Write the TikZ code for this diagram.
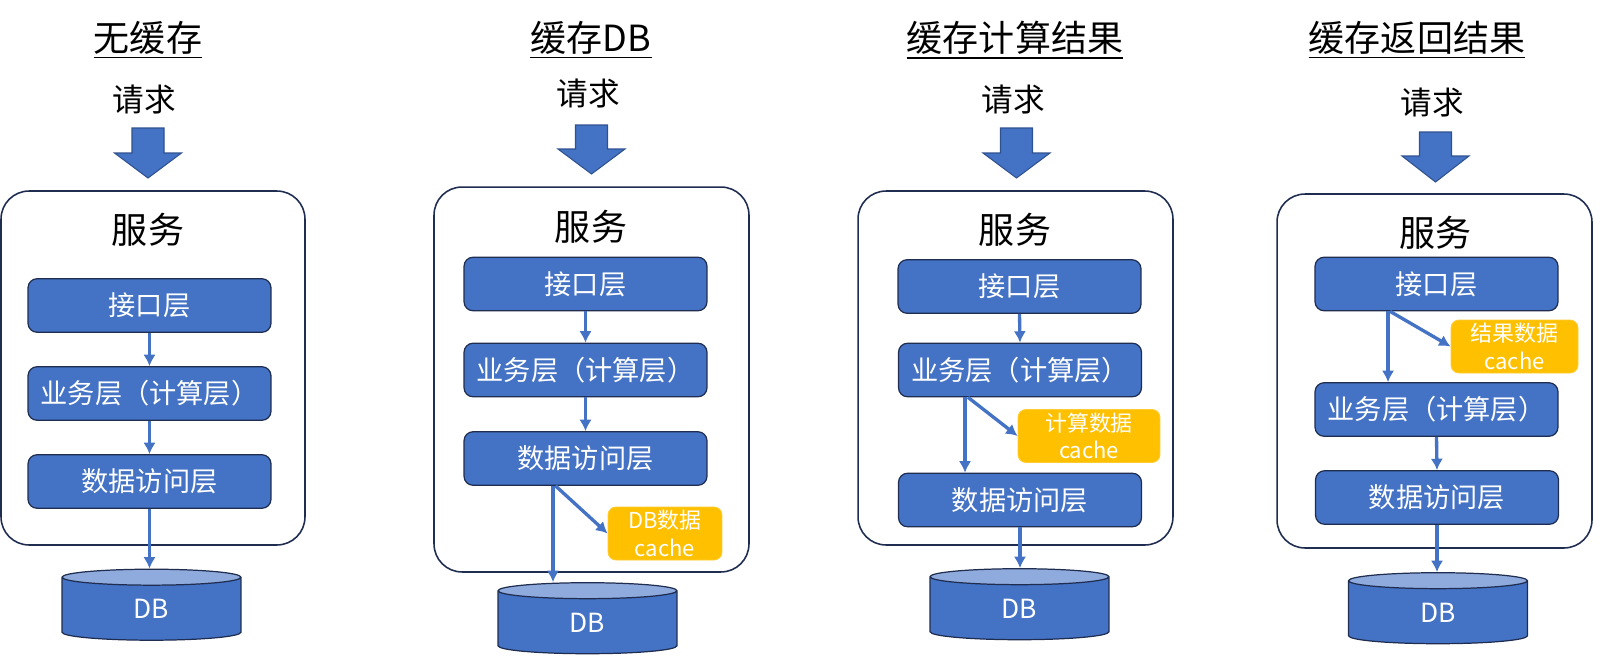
\documentclass[tikz,border=0pt]{standalone}
\usepackage{fontspec}
\setmainfont{Noto Sans CJK SC}
\usetikzlibrary{shapes.geometric}
\usetikzlibrary{positioning}
\usetikzlibrary{arrows.meta}

\definecolor{layerblue}{HTML}{4472C4}
\definecolor{layerline}{HTML}{2F528F}
\definecolor{boxline}{HTML}{1F2D50}
\definecolor{dbtop}{HTML}{8FAADC}
\definecolor{cachegold}{HTML}{FFC000}

\begin{document}
\begin{tikzpicture}[
    x=0.02cm, y=-0.02cm,
    every node/.style={
        inner sep=0pt
    },
    title/.style={
        font=\fontsize{20.5}{24}\selectfont
    },
    titlerule/.style={
        line width=1.1pt
    },
    request/.style={
        font=\fontsize{18}{22}\selectfont
    },
    service/.style={
        rectangle,
        rounded corners=0.56cm,
        draw=boxline, line width=0.9pt
    },
    servicename/.style={
        font=\fontsize{20.5}{24}\selectfont
    },
    layer/.style={
        minimum width=4.86cm, minimum height=1.07cm,
        text centered,
        rectangle, rounded corners=0.18cm,
        fill=layerblue, draw=boxline, line width=0.7pt,
        text=white,
        font=\fontsize{15.5}{18}\selectfont
    },
    cache/.style={
        minimum height=1.06cm,
        align=center,
        rectangle, rounded corners=0.16cm,
        fill=cachegold, draw=cachegold!80!white, line width=0.5pt,
        text=white,
        font=\fontsize{12.5}{15.5}\selectfont
    },
    db/.style={
        cylinder, shape border rotate=90, aspect=0.45,
        minimum width=3.58cm, minimum height=1.42cm,
        cylinder uses custom fill,
        cylinder body fill=layerblue, cylinder end fill=dbtop,
        draw=boxline, line width=0.7pt,
        text=white,
        font=\fontsize{15}{18}\selectfont
    },
    bigarrow/.style={
        fill=layerblue, draw=layerline, line width=0.6pt
    },
    link/.style={
        ->, >={Latex[length=6.5pt,width=7pt]},
        draw=layerblue, line width=1.9pt
    }
]
\useasboundingbox (0,0) rectangle (1616,663);

% 无缓存
\node (t1) [title]   at (148,38)  {无缓存};
\node (r1) [request] at (144,100) {请求};
\draw[bigarrow] (132,128) -- (164,128) -- (164,153) -- (181.5,153) -- (148,178) -- (114.5,153) -- (132,153) -- cycle;
\node (s1) [service, minimum width=6.08cm, minimum height=7.08cm] at (153,368) {};
\node (v1) [servicename] at (148,230) {服务};
\node (a1) [layer] at (149.5,305.5) {接口层};
\node (b1) [layer] at (149.5,393.5) {业务层（计算层）};
\node (c1) [layer] at (149.5,481.5) {数据访问层};
\node (d1) [db]    at (151.5,609)   {DB};
\draw[titlerule] ([yshift=-0.05cm]t1.south west) -- ([yshift=-0.05cm]t1.south east);
\draw[link] (a1.south) -- (b1.north);
\draw[link] (b1.south) -- (c1.north);
\draw[link] (c1.south) -- (c1.south |- d1.north);

% 缓存DB
\node (t2) [title]   at (591,38) {缓存DB};
\node (r2) [request] at (588,94) {请求};
\draw[bigarrow] (575.5,125) -- (607.5,125) -- (607.5,149) -- (625,149) -- (591.5,174) -- (558,149) -- (575.5,149) -- cycle;
\node (s2) [service, minimum width=6.3cm, minimum height=7.7cm] at (591.5,379.5) {};
\node (v2) [servicename] at (591,227) {服务};
\node (a2) [layer] at (585.5,284)   {接口层};
\node (b2) [layer] at (585.5,370)   {业务层（计算层）};
\node (c2) [layer] at (585.5,458.5) {数据访问层};
\node (k2) [cache, minimum width=2.28cm] at (665,533.5) {DB数据\\cache};
\node (d2) [db]    at (587.5,622.5) {DB};
\coordinate (e2) at ([xshift=-0.65cm]c2.south);
\draw[titlerule] ([yshift=-0.05cm]t2.south west) -- ([yshift=-0.05cm]t2.south east);
\draw[link] (a2.south) -- (b2.north);
\draw[link] (b2.south) -- (c2.north);
\draw[link] (e2) -- (e2 |- d2.north);
\draw[link] ([xshift=-0.6cm]c2.south) -- (k2.west);

% 缓存计算结果
\node (t3) [title]   at (1015,38) {缓存计算结果};
\node (r3) [request] at (1013,100) {请求};
\draw[bigarrow] (1000.5,128) -- (1032.5,128) -- (1032.5,153) -- (1050,153) -- (1016.5,178) -- (983,153) -- (1000.5,153) -- cycle;
\node (s3) [service, minimum width=6.3cm, minimum height=7.08cm] at (1015.5,368) {};
\node (v3) [servicename] at (1015,230) {服务};
\node (a3) [layer] at (1019.5,286.5) {接口层};
\node (b3) [layer] at (1020,370)     {业务层（计算层）};
\node (k3) [cache, minimum width=2.84cm] at (1089,436) {计算数据\\cache};
\node (c3) [layer] at (1020,500)     {数据访问层};
\node (d3) [db]    at (1019.5,608.5) {DB};
\coordinate (e3) at ([xshift=-1.1cm]b3.south);
\draw[titlerule] ([yshift=-0.05cm]t3.south west) -- ([yshift=-0.05cm]t3.south east);
\draw[link] (a3.south) -- (b3.north);
\draw[link] (e3) -- (e3 |- c3.north);
\draw[link] ([xshift=-1.04cm]b3.south) -- (k3.west);
\draw[link] (c3.south) -- (c3.south |- d3.north);

% 缓存返回结果
\node (t4) [title]   at (1417,38) {缓存返回结果};
\node (r4) [request] at (1432,103) {请求};
\draw[bigarrow] (1419.5,132) -- (1451.5,132) -- (1451.5,156) -- (1469,156) -- (1435.5,182) -- (1402,156) -- (1419.5,156) -- cycle;
\node (s4) [service, minimum width=6.3cm, minimum height=7.08cm] at (1434.5,371) {};
\node (v4) [servicename] at (1435,233) {服务};
\node (a4) [layer] at (1436.5,284)   {接口层};
\node (k4) [cache, minimum width=2.54cm] at (1514.5,346.5) {结果数据\\cache};
\node (b4) [layer] at (1436.5,409.5) {业务层（计算层）};
\node (c4) [layer] at (1437,497.5)   {数据访问层};
\node (d4) [db]    at (1438,612.5)   {DB};
\coordinate (e4) at ([xshift=-0.97cm]a4.south);
\draw[titlerule] ([yshift=-0.05cm]t4.south west) -- ([yshift=-0.05cm]t4.south east);
\draw[link] (e4) -- (e4 |- b4.north);
\draw[link] ([xshift=-0.93cm]a4.south) -- (k4.west);
\draw[link] (b4.south) -- (c4.north);
\draw[link] (c4.south) -- (c4.south |- d4.north);
\end{tikzpicture}
\end{document}
